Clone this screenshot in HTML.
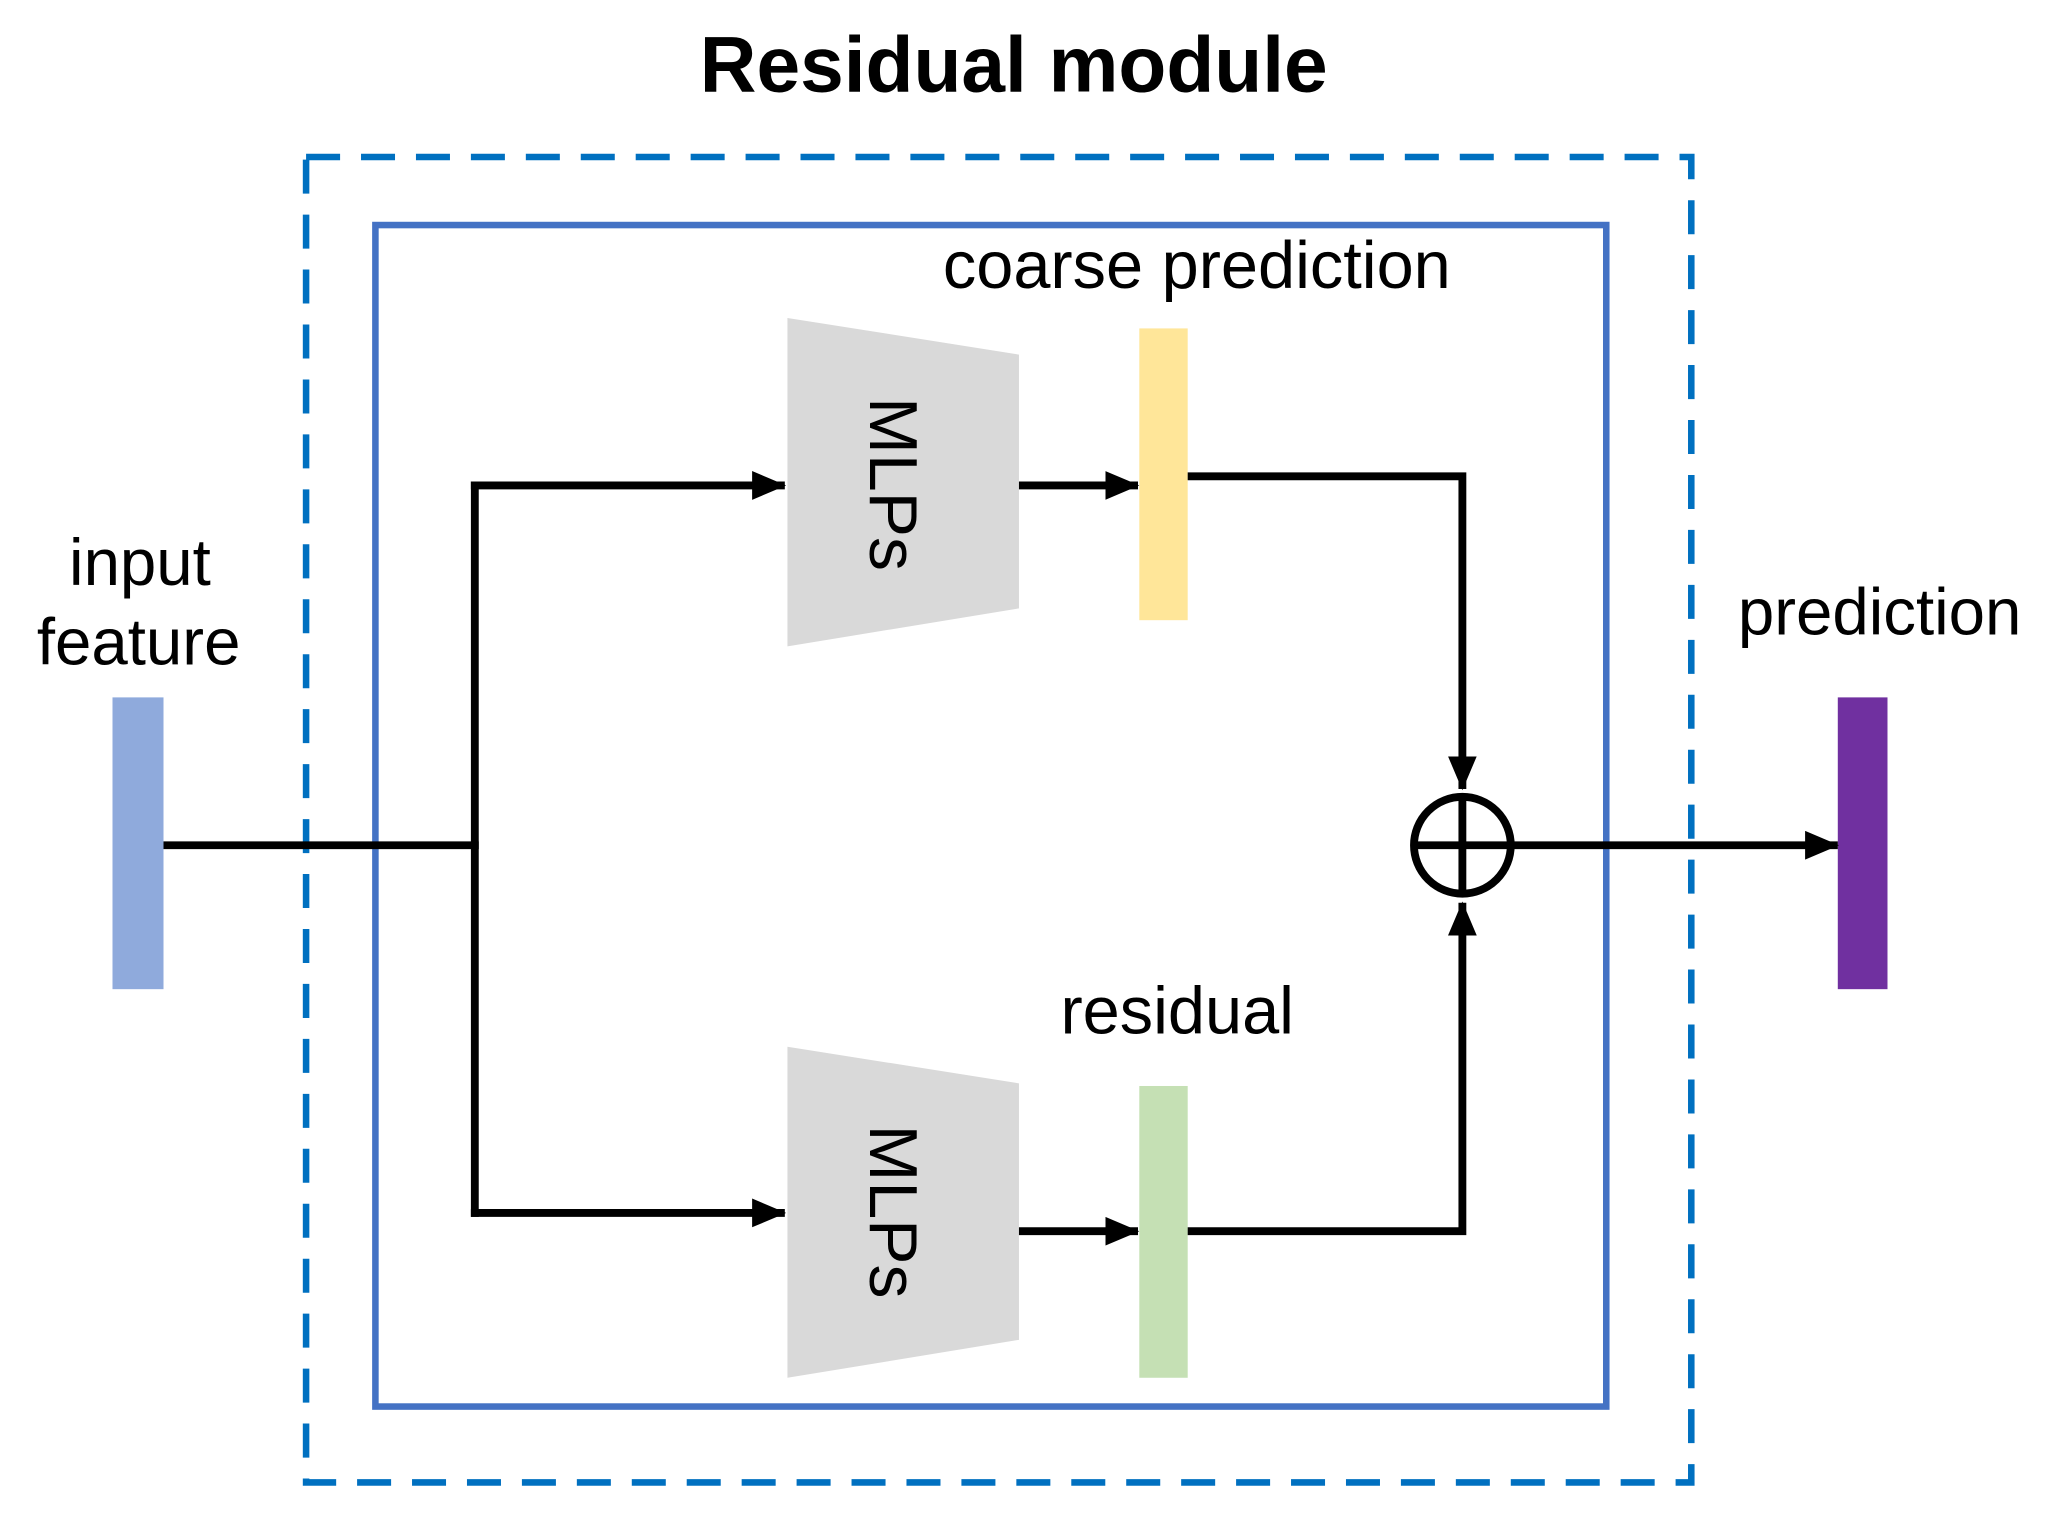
<!DOCTYPE html>
<html><head><meta charset="utf-8"><style>html,body{margin:0;padding:0;background:#fff}svg{display:block}</style></head>
<body>
<svg width="2051" height="1523" viewBox="0 0 1568 1164" preserveAspectRatio="none" xmlns="http://www.w3.org/2000/svg" font-family="Liberation Sans, sans-serif">
<defs>
<marker id="a" markerWidth="26" markerHeight="22" refX="25" refY="11" orient="auto" markerUnits="userSpaceOnUse" viewBox="0 0 26 22"><path d="M0,0 L26,11 L0,22 z" fill="#000"/></marker>
</defs>
<rect width="1568" height="1164" fill="#fff"/>
<text x="775" y="70" font-size="60" font-weight="bold" text-anchor="middle">Residual module</text>
<rect x="234" y="120" width="1059" height="1013" fill="none" stroke="#0070C0" stroke-width="5" stroke-dasharray="26,16"/>
<rect x="287" y="172" width="941" height="903" fill="none" stroke="#4472C4" stroke-width="5"/>
<text x="107" y="447" font-size="50" text-anchor="middle">input</text>
<text x="106" y="508" font-size="50" text-anchor="middle">feature</text>
<rect x="86" y="533" width="39" height="223" fill="#8FAADC"/>
<text x="1437" y="485" font-size="50" text-anchor="middle">prediction</text>
<rect x="1405" y="533" width="38" height="223" fill="#7030A0"/>
<text x="915" y="220" font-size="51" text-anchor="middle">coarse prediction</text>
<text x="900" y="790" font-size="51" text-anchor="middle">residual</text>
<rect x="871" y="251" width="37" height="223" fill="#FFE699"/>
<rect x="871" y="830" width="37" height="223" fill="#C5E0B4"/>
<polygon points="602,243 779,271 779,465 602,494" fill="#D9D9D9"/>
<polygon points="602,800 779,828 779,1024 602,1053" fill="#D9D9D9"/>
<text transform="translate(665,370) rotate(90)" font-size="52" text-anchor="middle">MLPs</text>
<text transform="translate(665,926) rotate(90)" font-size="52" text-anchor="middle">MLPs</text>
<g stroke="#000" stroke-width="6" fill="none">
<path d="M125,646 H366"/>
<path d="M363,368 V930"/>
<path d="M360,371 H600" marker-end="url(#a)"/>
<path d="M360,927 H600" marker-end="url(#a)"/>
<path d="M779,371 H870" marker-end="url(#a)"/>
<path d="M779,941 H870" marker-end="url(#a)"/>
<path d="M908,364 H1118 V603" marker-end="url(#a)"/>
<path d="M908,941 H1118 V690" marker-end="url(#a)"/>
<path d="M1157,646 H1405" marker-end="url(#a)"/>
<circle cx="1118" cy="646" r="37" stroke-width="6"/>
<path d="M1081,646 H1155 M1118,609 V683"/>
</g>
</svg>
</body></html>
